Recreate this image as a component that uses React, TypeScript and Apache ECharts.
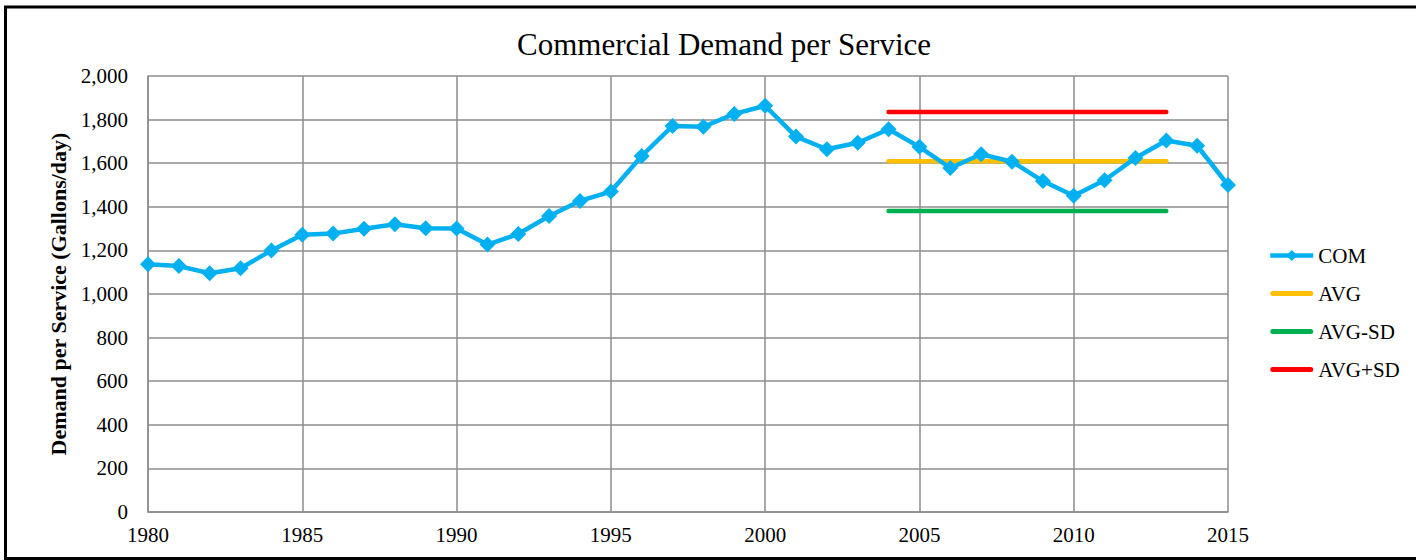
import React, { useEffect, useRef } from "react";
import * as echarts from "echarts";

const years = [
  1980, 1981, 1982, 1983, 1984, 1985, 1986, 1987, 1988, 1989,
  1990, 1991, 1992, 1993, 1994, 1995, 1996, 1997, 1998, 1999,
  2000, 2001, 2002, 2003, 2004, 2005, 2006, 2007, 2008, 2009,
  2010, 2011, 2012, 2013, 2014, 2015,
];
const comValues = [
  1136, 1128, 1095, 1118, 1200, 1272, 1277, 1299, 1320, 1302,
  1300, 1227, 1275, 1358, 1427, 1470, 1633, 1771, 1767, 1826,
  1863, 1722, 1664, 1694, 1756, 1675, 1578, 1641, 1607, 1518,
  1451, 1522, 1624, 1704, 1680, 1500,
];
const statStartYear = 2004;
const statEndYear = 2013;
const avgValue = 1609;
const avgMinusSd = 1381;
const avgPlusSd = 1835;
const yTicks = { min: 0, max: 2000, interval: 200 };
const xTicks = { min: 1980, max: 2015, interval: 5 };

const FONT = "'Liberation Serif', 'Times New Roman', serif";
const BAR_ICON = "path://M2.5,0 L40.5,0 A2.5,2.5 0 0 1 40.5,5 L2.5,5 A2.5,2.5 0 0 1 2.5,0 Z";

export default function App() {
  const ref = useRef<HTMLDivElement>(null);
  useEffect(() => {
    if (!ref.current) return;
    const chart = echarts.init(ref.current, undefined, { renderer: "svg" });
    const flat = (v: number) => [
      [statStartYear, v],
      [statEndYear, v],
    ];
    chart.setOption({
      animation: false,
      backgroundColor: "#ffffff",
      textStyle: { fontFamily: FONT, color: "#000" },
      title: {
        text: "Commercial Demand per Service",
        left: 719,
        top: 24,
        textAlign: "center",
        textStyle: { fontFamily: FONT, fontSize: 31, fontWeight: "normal", color: "#000" },
      },
      graphic: [
        {
          type: "rect",
          shape: { x: 5.5, y: 7, width: 1500, height: 551.5 },
          style: { fill: "none", stroke: "#000", lineWidth: 3 },
          silent: true,
        },
      ],
      legend: {
        orient: "vertical",
        left: 1263,
        top: 240,
        itemWidth: 43,
        itemHeight: 14,
        itemGap: 17,
        padding: 5,
        symbolKeepAspect: true,
        lineStyle: { width: 4.5 },
        textStyle: { fontFamily: FONT, fontSize: 21, color: "#000" },
        data: [
          { name: "COM" },
          { name: "AVG", icon: BAR_ICON },
          { name: "AVG-SD", icon: BAR_ICON },
          { name: "AVG+SD", icon: BAR_ICON },
        ],
      },
      grid: { left: 148, top: 76, width: 1080, height: 436, containLabel: false },
      xAxis: {
        type: "value",
        min: xTicks.min,
        max: xTicks.max,
        interval: xTicks.interval,
        axisLine: { show: true, lineStyle: { color: "#8c8c8c", width: 1.5 } },
        axisTick: { show: false },
        splitLine: { show: true, lineStyle: { color: "#8c8c8c", width: 1.5 } },
        axisLabel: {
          fontFamily: FONT,
          fontSize: 21,
          color: "#000",
          margin: 12,
          formatter: (v: number) => String(v),
        },
      },
      yAxis: {
        type: "value",
        min: yTicks.min,
        max: yTicks.max,
        interval: yTicks.interval,
        name: "Demand per Service (Gallons/day)",
        nameLocation: "middle",
        nameGap: 74,
        nameTextStyle: { fontFamily: FONT, fontSize: 22, fontWeight: "bold", color: "#000" },
        axisLine: { show: true, lineStyle: { color: "#8c8c8c", width: 1.5 } },
        axisTick: { show: false },
        splitLine: { show: true, lineStyle: { color: "#8c8c8c", width: 1.5 } },
        axisLabel: {
          fontFamily: FONT,
          fontSize: 21,
          color: "#000",
          margin: 20,
          formatter: (v: number) => v.toLocaleString("en-US"),
        },
      },
      series: [
        {
          name: "COM",
          type: "line",
          data: years.map((y, i) => [y, comValues[i]]),
          symbol: "diamond",
          symbolSize: 16,
          lineStyle: { color: "#00B0F0", width: 4.5 },
          itemStyle: { color: "#00B0F0" },
          z: 3,
        },
        {
          name: "AVG",
          type: "line",
          data: flat(avgValue),
          symbol: "none",
          lineStyle: { color: "#FFC000", width: 4.5, cap: "round" },
          itemStyle: { color: "#FFC000" },
          z: 2,
        },
        {
          name: "AVG-SD",
          type: "line",
          data: flat(avgMinusSd),
          symbol: "none",
          lineStyle: { color: "#00B050", width: 4.5, cap: "round" },
          itemStyle: { color: "#00B050" },
          z: 2,
        },
        {
          name: "AVG+SD",
          type: "line",
          data: flat(avgPlusSd),
          symbol: "none",
          lineStyle: { color: "#FF0000", width: 4.5, cap: "round" },
          itemStyle: { color: "#FF0000" },
          z: 2,
        },
      ],
    });
    return () => chart.dispose();
  }, []);
  return (
    <div
      ref={ref}
      style={{ position: "fixed", left: 0, top: 0, width: 1416, height: 560, background: "#fff" }}
    />
  );
}
